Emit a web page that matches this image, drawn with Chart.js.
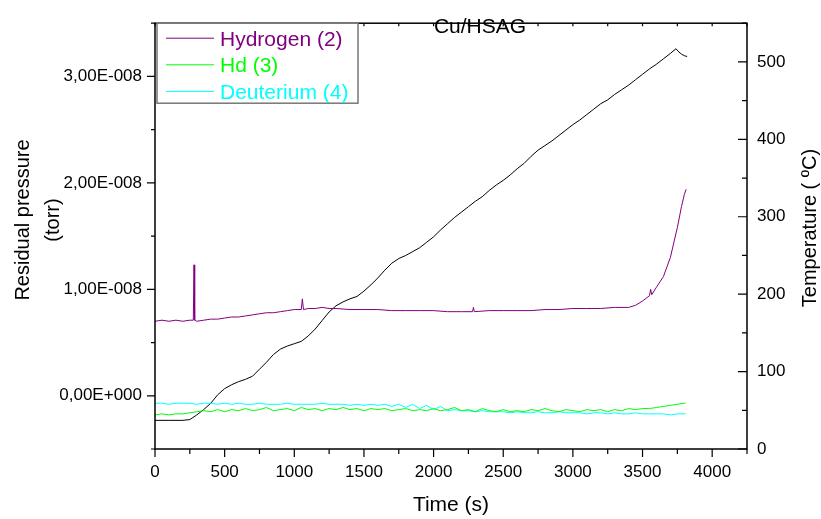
<!DOCTYPE html>
<html>
<head>
<meta charset="utf-8">
<script src="https://cdn.jsdelivr.net/npm/chart.js@4.4.1/dist/chart.umd.min.js"></script>
<style>
  html, body { margin: 0; padding: 0; background: #fff; }
  canvas { display: block; }
</style>
</head>
<body>
<canvas id="chart" width="821" height="519"></canvas>
<script>
// time axis (s) shared by Hd and Deuterium
const gasTime = [0, 50, 100, 150, 200, 250, 300, 350, 400, 450, 500, 550, 600, 650, 700, 750, 800, 850, 900, 950,
  1000, 1050, 1100, 1150, 1200, 1250, 1300, 1350, 1400, 1450, 1500, 1550, 1600, 1650, 1700, 1750, 1800, 1850, 1900, 1950,
  2000, 2050, 2100, 2150, 2200, 2250, 2300, 2350, 2400, 2450, 2500, 2550, 2600, 2650, 2700, 2750, 2800, 2850, 2900, 2950,
  3000, 3050, 3100, 3150, 3200, 3250, 3300, 3350, 3400, 3450, 3500, 3550, 3600, 3650, 3700, 3750, 3800, 3810];

// pressures in units of 1E-008 torr
const hdValues = [-0.18, -0.17, -0.18, -0.17, -0.17, -0.16, -0.15, -0.14, -0.15, -0.13, -0.15, -0.13, -0.14, -0.12, -0.14, -0.13, -0.11, -0.14, -0.13, -0.12,
  -0.14, -0.11, -0.13, -0.12, -0.14, -0.12, -0.13, -0.11, -0.13, -0.12, -0.14, -0.12, -0.13, -0.12, -0.14, -0.13, -0.12, -0.14, -0.13, -0.14,
  -0.12, -0.14, -0.13, -0.11, -0.14, -0.13, -0.15, -0.12, -0.14, -0.15, -0.13, -0.15, -0.14, -0.15, -0.13, -0.14, -0.12, -0.14, -0.15, -0.13,
  -0.14, -0.15, -0.13, -0.14, -0.13, -0.15, -0.13, -0.14, -0.12, -0.13, -0.12, -0.12, -0.11, -0.10, -0.09, -0.08, -0.07, -0.07];

const d2Values = [-0.07, -0.07, -0.08, -0.07, -0.07, -0.07, -0.08, -0.07, -0.07, -0.08, -0.07, -0.08, -0.07, -0.08, -0.08, -0.07, -0.08, -0.08, -0.08, -0.07,
  -0.08, -0.08, -0.08, -0.08, -0.07, -0.08, -0.08, -0.08, -0.09, -0.08, -0.09, -0.08, -0.09, -0.08, -0.10, -0.08, -0.11, -0.08, -0.12, -0.09,
  -0.13, -0.10, -0.14, -0.13, -0.14, -0.14, -0.15, -0.14, -0.15, -0.15, -0.15, -0.16, -0.15, -0.16, -0.16, -0.15, -0.16, -0.16, -0.15, -0.16,
  -0.16, -0.16, -0.17, -0.16, -0.16, -0.17, -0.16, -0.17, -0.17, -0.16, -0.17, -0.17, -0.17, -0.17, -0.18, -0.17, -0.17, -0.17];

const h2Time = [0, 50, 100, 150, 200, 250, 275, 280, 285, 300, 350, 400, 450, 500, 550, 600, 650, 700, 750, 800, 850, 900, 950,
  1000, 1050, 1058, 1066, 1100, 1150, 1200, 1250, 1300, 1400, 1500, 1600, 1700, 1800, 1900, 2000, 2100, 2200, 2280, 2286, 2292,
  2400, 2500, 2600, 2700, 2800, 2900, 3000, 3100, 3200, 3300, 3400, 3450, 3500, 3550, 3558, 3566, 3600, 3650, 3700, 3750, 3780, 3800, 3813];
const h2Values = [0.70, 0.71, 0.70, 0.71, 0.70, 0.71, 0.71, 1.23, 0.71, 0.70, 0.71, 0.72, 0.72, 0.73, 0.74, 0.74, 0.75, 0.76, 0.77, 0.78, 0.78, 0.79, 0.80,
  0.81, 0.81, 0.91, 0.81, 0.82, 0.82, 0.83, 0.82, 0.82, 0.81, 0.81, 0.81, 0.80, 0.80, 0.80, 0.80, 0.79, 0.79, 0.79, 0.83, 0.79,
  0.80, 0.80, 0.80, 0.80, 0.81, 0.81, 0.82, 0.82, 0.82, 0.83, 0.83, 0.85, 0.89, 0.94, 1.00, 0.95, 1.02, 1.12, 1.30, 1.58, 1.78, 1.89, 1.94];

// temperature (ºC), right axis
const tempTime = [0, 100, 200, 250, 300, 350, 400, 450, 500, 550, 600, 650, 700, 750, 800, 850, 900, 950,
  1000, 1050, 1100, 1150, 1200, 1250, 1300, 1350, 1400, 1450, 1500, 1550, 1600, 1650, 1700, 1750, 1800, 1850, 1900, 1950,
  2000, 2050, 2100, 2150, 2200, 2250, 2300, 2350, 2400, 2450, 2500, 2550, 2600, 2650, 2700, 2750, 2800, 2850, 2900, 2950,
  3000, 3050, 3100, 3150, 3200, 3250, 3300, 3350, 3400, 3450, 3500, 3550, 3600, 3650, 3700, 3740, 3760, 3780, 3800, 3820];
const tempValues = [37, 37, 37, 38, 44, 51, 59, 70, 78, 83, 87, 90, 94, 103, 112, 122, 129, 133,
  136, 139, 146, 155, 166, 177, 185, 190, 194, 197, 204, 212, 221, 231, 240, 246, 250, 255, 260, 267,
  274, 283, 291, 299, 306, 313, 320, 326, 334, 341, 347, 354, 362, 369, 378, 386, 392, 398, 405, 412,
  419, 425, 432, 439, 446, 451, 458, 464, 470, 477, 484, 491, 497, 504, 511, 517, 513, 510, 508, 507];

const seriesNames = ["Hydrogen (2)", "Hd (3)", "Deuterium (4)", "Temperature"];
const seriesColors = ["#800080", "#00ff00", "#00ffff", "#000000"];

const FONT = "'Liberation Sans', Arial, sans-serif";

function pts(xs, ys) { return xs.map((x, i) => ({ x: x, y: ys[i] })); }

function pressureLabel(v) {
  if (!Number.isInteger(v)) return "";
  if (v === 0) return "0,00E+000";
  return v.toFixed(2).replace(".", ",") + "E-008";
}

// axis frame, tick marks, titles, legend
const decor = {
  id: "decor",
  afterDraw(chart) {
    const { ctx, chartArea: a, scales } = chart;
    ctx.save();
    ctx.strokeStyle = "#000";
    ctx.lineWidth = 1.5;
    ctx.strokeRect(a.left, a.top, a.right - a.left, a.bottom - a.top);

    ctx.lineWidth = 1.2;
    ctx.beginPath();
    scales.x.ticks.forEach(t => {
      const px = scales.x.getPixelForValue(t.value);
      const major = t.value % 500 === 0;
      ctx.moveTo(px, a.bottom); ctx.lineTo(px, a.bottom + (major ? 8 : 5));
      ctx.moveTo(px, a.top); ctx.lineTo(px, a.top + 3);
    });
    scales.y.ticks.forEach(t => {
      const py = scales.y.getPixelForValue(t.value);
      const major = Number.isInteger(t.value);
      ctx.moveTo(a.left, py); ctx.lineTo(a.left - (major ? 8 : 4), py);
    });
    scales.y1.ticks.forEach(t => {
      const py = scales.y1.getPixelForValue(t.value);
      const major = t.value % 100 === 0;
      ctx.moveTo(a.right, py); ctx.lineTo(a.right - (major ? 9 : 5), py);
    });
    ctx.stroke();

    ctx.fillStyle = "#000";
    ctx.font = "21px " + FONT;
    ctx.textAlign = "center";
    ctx.textBaseline = "alphabetic";
    ctx.fillText("Cu/HSAG", 480, 33);
    ctx.fillText("Time (s)", (a.left + a.right) / 2, 511);

    ctx.font = "20px " + FONT;
    ctx.save();
    ctx.translate(29, 220);
    ctx.rotate(-Math.PI / 2);
    ctx.fillText("Residual pressure", 0, 0);
    ctx.fillText("(torr)", 0, 30);
    ctx.restore();

    ctx.save();
    ctx.translate(816, 228);
    ctx.rotate(-Math.PI / 2);
    ctx.fillText("Temperature ( ºC)", 0, 0);
    ctx.restore();

    // legend box
    const lx = a.left + 2, ly = a.top, lw = 201, lh = 80;
    ctx.fillStyle = "#fff";
    ctx.fillRect(lx, ly, lw, lh);
    ctx.strokeStyle = "#777";
    ctx.lineWidth = 1.5;
    ctx.strokeRect(lx, ly, lw, lh);
    ctx.font = "21px " + FONT;
    ctx.textAlign = "left";
    for (let i = 0; i < 3; i++) {
      const ds = chart.data.datasets[i];
      const yy = ly + 15 + i * 26.6;
      ctx.strokeStyle = ds.borderColor;
      ctx.lineWidth = 1;
      ctx.beginPath();
      ctx.moveTo(lx + 9, yy); ctx.lineTo(lx + 57, yy);
      ctx.stroke();
      ctx.fillStyle = ds.borderColor;
      ctx.fillText(ds.label, lx + 63, yy + 7.5);
    }
    ctx.restore();
  }
};

const tickFont = { family: FONT, size: 17 };

new Chart(document.getElementById("chart"), {
  type: "line",
  data: {
    datasets: [
      { label: seriesNames[0], data: pts(h2Time, h2Values), borderColor: seriesColors[0], yAxisID: "y" },
      { label: seriesNames[1], data: pts(gasTime, hdValues), borderColor: seriesColors[1], yAxisID: "y" },
      { label: seriesNames[2], data: pts(gasTime, d2Values), borderColor: seriesColors[2], yAxisID: "y" },
      { label: seriesNames[3], data: pts(tempTime, tempValues), borderColor: seriesColors[3], yAxisID: "y1" }
    ]
  },
  options: {
    responsive: false,
    animation: false,
    devicePixelRatio: 1,
    layout: { padding: { top: 12, left: 0, right: 0, bottom: 0 } },
    elements: {
      point: { radius: 0 },
      line: { borderWidth: 1, tension: 0, fill: false }
    },
    plugins: { legend: { display: false }, tooltip: { enabled: false } },
    scales: {
      x: {
        type: "linear", position: "bottom", min: 0, max: 4250,
        grid: { display: false, drawTicks: false },
        border: { display: false },
        ticks: {
          stepSize: 250, autoSkip: false, maxRotation: 0, padding: 13,
          color: "#000", font: tickFont,
          callback: v => (v % 500 === 0 ? String(v) : "")
        },
        afterFit: s => { s.height = 70; }
      },
      y: {
        type: "linear", position: "left", min: -0.5, max: 3.5,
        grid: { display: false, drawTicks: false },
        border: { display: false },
        ticks: { stepSize: 0.5, padding: 13, color: "#000", font: tickFont, callback: pressureLabel },
        afterFit: s => { s.width = 155; }
      },
      y1: {
        type: "linear", position: "right", min: 0, max: 550,
        grid: { display: false, drawTicks: false },
        border: { display: false },
        ticks: {
          stepSize: 50, padding: 10, color: "#000", font: tickFont,
          callback: v => (v % 100 === 0 ? String(v) : "")
        },
        afterFit: s => { s.width = 74; }
      }
    }
  },
  plugins: [decor]
});
</script>
</body>
</html>
